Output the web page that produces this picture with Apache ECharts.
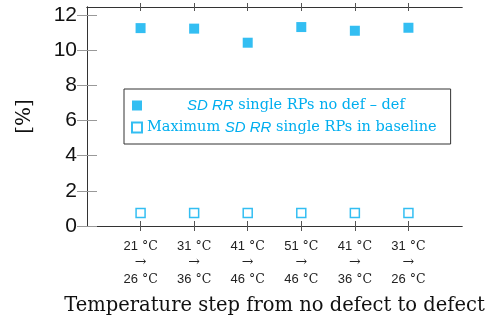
<!DOCTYPE html>
<html><head><meta charset="utf-8">
<script src="https://cdn.jsdelivr.net/npm/echarts@6/dist/echarts.min.js"></script>
<style>html,body{margin:0;padding:0;background:#fff}#c{width:489px;height:324px}</style>
</head><body><div id="c"></div>
<script>
const categories = [["21","26"],["31","36"],["41","46"],["51","46"],["41","36"],["31","26"]];
const xPositions = [1,2,3,4,5,6];
const sdDiff = [11.25, 11.22, 10.42, 11.31, 11.10, 11.27];
const sdBaseline = [0.74, 0.74, 0.74, 0.74, 0.74, 0.74];
const yTicks = [0,2,4,6,8,10,12];
const seriesNames = ["diff", "base"];

const C = '#00AEEF';
const serif = '"DejaVu Serif", serif';
const sans = '"Liberation Sans", Arial, sans-serif';

const chart = echarts.init(document.getElementById('c'), null, {renderer:'canvas'});

function xLabel(v){
  const i = xPositions.indexOf(v);
  if (i < 0) return '';
  const c = categories[i];
  return '{n|' + c[0] + '}{u| °C}\n{a|→}\n{n|' + c[1] + '}{u| °C}';
}
const LH = 16.5;
const xRich = {
  n:{fontFamily:sans,fontSize:13,color:'#222',lineHeight:LH},
  u:{fontFamily:serif,fontSize:12.5,color:'#222',lineHeight:LH},
  a:{fontFamily:serif,fontSize:14,color:'#222',lineHeight:LH}
};
const baseX = {type:'value',min:0,max:7,interval:1,splitLine:{show:false},
  axisLine:{show:true,lineStyle:{color:'#333',width:1}}};

const option = {
  animation:false,
  grid:{left:87,right:27,top:7,bottom:98,show:false},
  xAxis:[
    Object.assign({},baseX,{position:'bottom',
      axisTick:{show:true,inside:false,length:5,customValues:xPositions,lineStyle:{color:'#555'}},
      axisLabel:{show:true,customValues:xPositions,formatter:xLabel,rich:xRich,margin:12,lineHeight:LH},
      name:'Temperature step from no defect to defect',nameLocation:'middle',nameGap:70,
      nameTextStyle:{fontFamily:serif,fontSize:19.5,color:'#111'}}),
    Object.assign({},baseX,{position:'bottom',
      axisTick:{show:true,inside:true,length:5,customValues:xPositions,lineStyle:{color:'#555'}},
      axisLabel:{show:false}}),
    Object.assign({},baseX,{position:'top',
      axisTick:{show:true,inside:true,length:4,customValues:xPositions,lineStyle:{color:'#555'}},
      axisLabel:{show:false}}),
    Object.assign({},baseX,{position:'top',
      axisTick:{show:true,inside:false,length:4,customValues:xPositions,lineStyle:{color:'#555'}},
      axisLabel:{show:false}})
  ],
  yAxis:[
    {type:'value',min:0,max:12.45,position:'left',splitLine:{show:false},
      axisLine:{show:true,lineStyle:{color:'#333',width:1}},
      axisTick:{show:true,inside:true,length:10,customValues:yTicks,lineStyle:{color:'#999'}},
      axisLabel:{show:true,customValues:yTicks,margin:10,fontFamily:sans,fontSize:21,color:'#111'},
      name:'[%]',nameLocation:'middle',nameGap:52,nameRotate:90,
      nameTextStyle:{fontFamily:serif,fontSize:20,color:'#111'}},
    {type:'value',min:0,max:12.45,position:'right',splitLine:{show:false},
      axisLine:{show:true,lineStyle:{color:'#333',width:1}},
      axisTick:{show:true,inside:true,length:10,customValues:yTicks,lineStyle:{color:'#999'}},
      axisLabel:{show:false}}
  ],
  legend:{
    orient:'vertical',left:124,top:89,
    padding:[9,14,9,7],itemGap:7,itemWidth:10,itemHeight:10,
    backgroundColor:'#fff',borderColor:'#333',borderWidth:1,borderRadius:0,
    data:seriesNames,
    formatter:function(name){
      if(name==='diff') return '{pad|}{i|SD RR}{s| single RPs no def – def}';
      return '{s|Maximum }{i|SD RR}{s| single RPs in baseline}';
    },
    textStyle:{color:C,rich:{
      pad:{width:40},
      i:{fontFamily:sans,fontStyle:'italic',fontSize:15,color:C},
      s:{fontFamily:serif,fontSize:14.5,color:C}
    }}
  },
  series:[
    {name:seriesNames[0],type:'scatter',symbol:'rect',symbolSize:10,xAxisIndex:0,yAxisIndex:0,
      itemStyle:{color:C},data:xPositions.map((x,i)=>[x,sdDiff[i]])},
    {name:seriesNames[1],type:'scatter',symbol:'rect',symbolSize:9,xAxisIndex:0,yAxisIndex:0,
      itemStyle:{color:'#fff',borderColor:C,borderWidth:1.5},data:xPositions.map((x,i)=>[x,sdBaseline[i]])}
  ]
};
chart.setOption(option);
</script></body></html>
